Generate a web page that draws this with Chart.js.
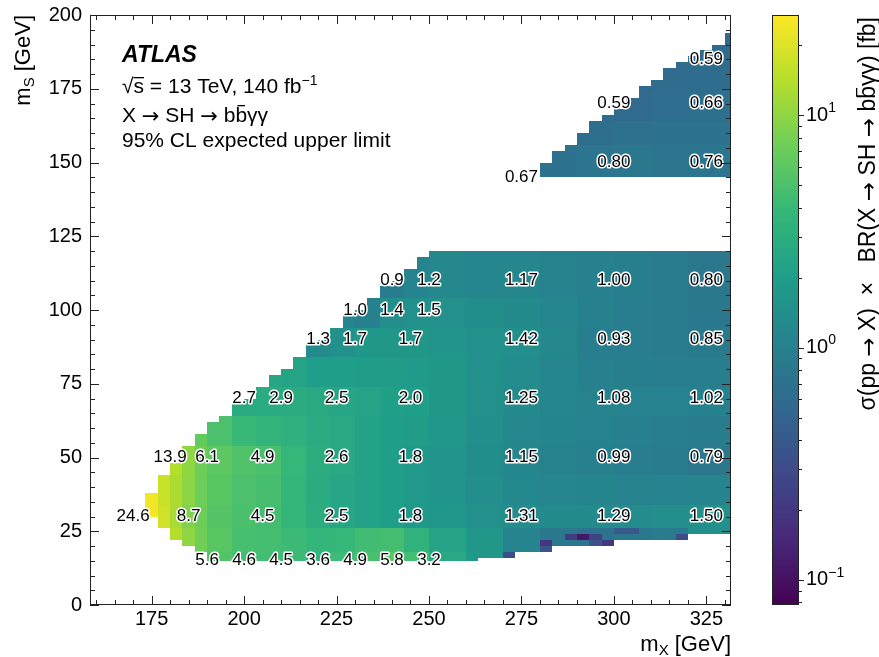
<!DOCTYPE html>
<html>
<head>
<meta charset="utf-8">
<script src="https://cdn.jsdelivr.net/npm/chart.js@4.4.1/dist/chart.umd.min.js"></script>
<style>
  html, body { margin: 0; padding: 0; background: #fff; }
  #plot { display: block; }
</style>
</head>
<body>
<canvas id="plot" width="879" height="657" style="width:879px;height:657px"></canvas>
<script>
const FONT = '"Liberation Sans", Arial, Helvetica, sans-serif';
const ARROW_FONT = '"DejaVu Sans", sans-serif';

// axis ticks
const xTicks = [175, 200, 225, 250, 275, 300, 325];
const yTicks = [0, 25, 50, 75, 100, 125, 150, 175, 200];
const cbTicks = [0.1, 1, 10];
const cbTickExp = ['\u22121', '0', '1'];
const cbMin = 0.078, cbMax = 27;

// labelled mass points: m_X, m_S and expected limit [fb]
const pointMX = [190, 200, 210, 220, 230, 240, 250,
  170, 185, 205, 225, 245, 275, 300, 325,
  180, 190, 205, 225, 245, 275, 300, 325,
  200, 210, 225, 245, 275, 300, 325,
  220, 230, 245, 275, 300, 325,
  230, 240, 250,
  240, 250, 275, 300, 325,
  275, 300, 325, 300, 325, 325];
const pointMS = [15, 15, 15, 15, 15, 15, 15,
  30, 30, 30, 30, 30, 30, 30, 30,
  50, 50, 50, 50, 50, 50, 50, 50,
  70, 70, 70, 70, 70, 70, 70,
  90, 90, 90, 90, 90, 90,
  100, 100, 100,
  110, 110, 110, 110, 110,
  145, 150, 150, 170, 170, 185];
const pointLimit = [5.6, 4.6, 4.5, 3.6, 4.9, 5.8, 3.2,
  24.6, 8.7, 4.5, 2.5, 1.8, 1.31, 1.29, 1.50,
  13.9, 6.1, 4.9, 2.6, 1.8, 1.15, 0.99, 0.79,
  2.7, 2.9, 2.5, 2.0, 1.25, 1.08, 1.02,
  1.3, 1.7, 1.7, 1.42, 0.93, 0.85,
  1.0, 1.4, 1.5,
  0.9, 1.2, 1.17, 1.00, 0.80,
  0.67, 0.80, 0.76, 0.59, 0.66, 0.59];

// interpolation cells: 48 columns of 10/3 GeV starting at m_X = 173.33
const firstCol = 173.33;
const cellW = 10 / 3;
// m_S extent of the lower region in every column [GeV]
const lowerFloor = [30, 26, 22, 20, 18, 15, 15, 15, 15, 15, 15, 15, 15, 15, 15, 15,
  15, 15, 15, 15, 15, 15, 15, 15, 15, 15, 15, 16, 16, 16, 18, 18,
  18, 20, 20, 20, 20, 20, 22, 22, 22, 22, 22, 22, 24, 24, 24, 24];
const lowerCeil = [38, 44, 48, 54, 58, 62, 64, 68, 70, 74, 78, 80, 84, 88, 90, 94,
  98, 100, 104, 108, 110, 114, 118, 120, 120, 120, 120, 120, 120, 120, 120, 120,
  120, 120, 120, 120, 120, 120, 120, 120, 120, 120, 120, 120, 120, 120, 120, 120];
// m_S extent of the high-m_S region (starts at m_X = 280)
const upperFloor = [null, null, null, null, null, null, null, null, null, null, null, null, null, null, null, null,
  null, null, null, null, null, null, null, null, null, null, null, null, null, null, null, null,
  145, 145, 145, 145, 145, 145, 145, 145, 145, 145, 145, 145, 145, 145, 145, 145];
const upperCeil = [null, null, null, null, null, null, null, null, null, null, null, null, null, null, null, null,
  null, null, null, null, null, null, null, null, null, null, null, null, null, null, null, null,
  150, 154, 156, 160, 164, 166, 168, 172, 176, 178, 182, 184, 186, 188, 190, 194];

// limit map on coarse m_X x m_S blocks [fb]
const xBandEdges = [173.33, 176.67, 180, 183.33, 186.67, 190, 196.67, 203.33, 210, 216.67, 223.33,
  230, 236.67, 243.33, 250, 260, 270, 280, 290, 300, 310, 320, 333.33];
const yBandEdges = [14, 18, 26, 34, 44, 54, 64, 74, 84, 94, 104, 120,
  144, 156, 164, 174, 184, 198];
const _ = null;
const limitRows = [
  [_, _, _, _, _, 5.4, 4.6, 4.5, 4.2, 3.6, 4.2, 4.9, 5.8, 4.5, 2.6, 1.8, 1.2, 0.9, 0.8, 0.8, 0.8, 0.9],
  [_, _, 14, 10, 7.5, 5.8, 4.8, 4.6, 4.2, 3.7, 3.8, 4.4, 4.6, 3.4, 2.3, 1.7, 1.1, 0.8, 0.7, 0.8, 0.9, 1.4],
  [24.6, 18, 12.5, 8.7, 7.2, 5.6, 4.9, 4.5, 3.7, 3.0, 2.5, 2.2, 2.0, 1.8, 1.65, 1.45, 1.31, 1.28, 1.29, 1.32, 1.4, 1.5],
  [24.6, 17, 13, 9.8, 7.2, 5.8, 5.0, 4.7, 3.7, 2.9, 2.5, 2.2, 2.0, 1.8, 1.6, 1.4, 1.22, 1.15, 1.12, 1.08, 1.05, 1.1],
  [_, 15, 13.9, 10, 7.2, 6.1, 5.2, 4.9, 3.8, 3.0, 2.6, 2.2, 2.0, 1.8, 1.6, 1.35, 1.15, 1.07, 0.99, 0.95, 0.87, 0.79],
  [_, _, _, 9, 6.5, 5.0, 4.0, 3.6, 3.2, 2.8, 2.6, 2.2, 2.0, 1.9, 1.65, 1.4, 1.2, 1.12, 1.05, 1.0, 0.95, 0.9],
  [_, _, _, _, _, 3.4, 2.7, 2.8, 2.9, 2.7, 2.5, 2.3, 2.1, 2.0, 1.7, 1.45, 1.25, 1.15, 1.08, 1.06, 1.04, 1.02],
  [_, _, _, _, _, _, _, 2.5, 2.3, 2.0, 2.0, 1.95, 1.9, 1.85, 1.7, 1.5, 1.32, 1.15, 1.0, 0.97, 0.95, 0.93],
  [_, _, _, _, _, _, _, _, 1.6, 1.3, 1.5, 1.7, 1.7, 1.7, 1.6, 1.5, 1.42, 1.2, 0.95, 0.93, 0.88, 0.85],
  [_, _, _, _, _, _, _, _, _, _, 1.1, 1.0, 1.4, 1.5, 1.45, 1.35, 1.3, 1.15, 1.0, 0.95, 0.87, 0.82],
  [_, _, _, _, _, _, _, _, _, _, _, 0.95, 0.9, 1.1, 1.2, 1.18, 1.17, 1.08, 1.0, 0.97, 0.88, 0.80],
  [_, _, _, _, _, _, _, _, _, _, _, _, _, _, _, _, _, _, _, _, _, _],
  [_, _, _, _, _, _, _, _, _, _, _, _, _, _, _, _, _, 0.70, 0.76, 0.80, 0.78, 0.76],
  [_, _, _, _, _, _, _, _, _, _, _, _, _, _, _, _, _, 0.68, 0.66, 0.68, 0.70, 0.70],
  [_, _, _, _, _, _, _, _, _, _, _, _, _, _, _, _, _, _, 0.60, 0.59, 0.63, 0.66],
  [_, _, _, _, _, _, _, _, _, _, _, _, _, _, _, _, _, _, _, 0.58, 0.60, 0.62],
  [_, _, _, _, _, _, _, _, _, _, _, _, _, _, _, _, _, _, _, _, 0.58, 0.59]
];
// single low cells along the lower edge: column centre m_X, cell floor m_S, limit
const speckMX = [271.67, 281.67, 281.67, 288.33, 291.67, 295, 295, 298.33, 301.67, 305, 318.33];
const speckMS = [16, 18, 20, 22, 22, 22, 20, 20, 24, 24, 22];
const speckLimit = [0.33, 0.35, 0.2, 0.22, 0.11, 0.25, 0.35, 0.2, 0.4, 0.4, 0.3];

// viridis
const VIRIDIS = ['#440154', '#482878', '#3e4989', '#31688e', '#26828e', '#1f9e89', '#35b779', '#6ece58', '#b5de2b', '#fde725'];
function hexRgb(h) { return [1, 3, 5].map(i => parseInt(h.slice(i, i + 2), 16)); }
const VIR_RGB = VIRIDIS.map(hexRgb);
function colorFor(v) {
  let t = (Math.log10(v) - Math.log10(cbMin)) / (Math.log10(cbMax) - Math.log10(cbMin));
  t = Math.max(0, Math.min(1, t)) * (VIR_RGB.length - 1);
  const i = Math.min(Math.floor(t), VIR_RGB.length - 2), f = t - i;
  const a = VIR_RGB[i], b = VIR_RGB[i + 1];
  return `rgb(${a.map((c, k) => Math.round(c + (b[k] - c) * f)).join(',')})`;
}

function bandOf(edges, v) {
  for (let i = 0; i < edges.length - 1; i++) if (v >= edges[i] && v < edges[i + 1]) return i;
  return -1;
}

// rich text: pieces = {t, size, dy, style, font, bar:[dx, h, extra]}
function rich(ctx, pieces, x, y, align) {
  const fontOf = p => `${p.style || ''} ${p.size}px ${p.font || FONT}`;
  const widths = pieces.map(p => { ctx.font = fontOf(p); return ctx.measureText(p.t).width; });
  const total = widths.reduce((a, b) => a + b, 0);
  let cx = align === 'right' ? x - total : x;
  pieces.forEach((p, i) => {
    ctx.font = fontOf(p);
    ctx.fillText(p.t, cx, y + (p.dy || 0));
    if (p.bar) ctx.fillRect(cx + p.bar[0], y - p.bar[1], widths[i] - p.bar[0] + (p.bar[2] || 0), 1.3);
    cx += widths[i];
  });
  return total;
}
const T = (t, size, extra) => Object.assign({ t, size }, extra || {});
const ARR = size => T('\u2192', size, { font: ARROW_FONT, dy: 1 });

const heatmap = {
  id: 'heatmap',
  beforeDatasetsDraw(chart) {
    const { ctx } = chart;
    const xs = chart.scales.x, ys = chart.scales.y;
    const cell = (x0, x1, y0, y1, v) => {
      const L = Math.round(xs.getPixelForValue(x0)), R = Math.round(xs.getPixelForValue(Math.min(x1, xs.max)));
      const Tp = Math.round(ys.getPixelForValue(y1)), B = Math.round(ys.getPixelForValue(y0));
      ctx.fillStyle = colorFor(v);
      ctx.fillRect(L, Tp, R - L, B - Tp);
    };
    ctx.save();
    for (let k = 0; k < lowerFloor.length; k++) {
      const x0 = firstCol + k * cellW, x1 = x0 + cellW;
      const b = bandOf(xBandEdges, x0 + cellW / 2);
      const spans = [[lowerFloor[k], lowerCeil[k]], [upperFloor[k], upperCeil[k]]];
      for (const [lo, hi] of spans) {
        if (lo === null) continue;
        for (let j = 0; j < yBandEdges.length - 1; j++) {
          const y0 = Math.max(lo, yBandEdges[j]), y1 = Math.min(hi, yBandEdges[j + 1]);
          const v = limitRows[j][b];
          if (y1 > y0 && v !== null) cell(x0, x1, y0, y1, v);
        }
      }
    }
    speckMX.forEach((mx, i) => cell(mx - cellW / 2, mx + cellW / 2, speckMS[i], speckMS[i] + 2, speckLimit[i]));
    ctx.restore();
  },
  afterDatasetsDraw(chart) {
    const { ctx } = chart;
    const xs = chart.scales.x, ys = chart.scales.y;
    ctx.save();
    ctx.font = `17px ${FONT}`;
    ctx.textAlign = 'center';
    ctx.textBaseline = 'middle';
    ctx.lineJoin = 'round';
    pointMX.forEach((mx, i) => {
      const v = pointLimit[i];
      const s = mx >= 275 ? v.toFixed(2) : v.toFixed(1);
      const px = xs.getPixelForValue(mx), py = ys.getPixelForValue(pointMS[i]);
      ctx.strokeStyle = '#fff';
      ctx.lineWidth = 3;
      ctx.strokeText(s, px, py);
      ctx.fillStyle = '#000';
      ctx.fillText(s, px, py);
    });
    ctx.restore();
  }
};

const frame = {
  id: 'frame',
  afterDraw(chart) {
    const { ctx, chartArea: a } = chart;
    const xs = chart.scales.x, ys = chart.scales.y, cb = chart.scales.cb;
    ctx.save();
    ctx.strokeStyle = '#222';
    ctx.lineWidth = 1;
    ctx.strokeRect(a.left + 0.5, a.top + 0.5, a.right - a.left - 1, a.bottom - a.top - 1);
    ctx.beginPath();
    for (let v = 160; v <= 330; v += 5) {
      const p = Math.round(xs.getPixelForValue(v)) + 0.5;
      const len = v % 25 === 0 ? 9 : 5;
      ctx.moveTo(p, a.bottom); ctx.lineTo(p, a.bottom - len);
      ctx.moveTo(p, a.top); ctx.lineTo(p, a.top + len);
    }
    for (let v = 0; v <= 200; v += 5) {
      const p = Math.round(ys.getPixelForValue(v)) + 0.5;
      const len = v % 25 === 0 ? 9 : 5;
      ctx.moveTo(a.left, p); ctx.lineTo(a.left + len, p);
      ctx.moveTo(a.right, p); ctx.lineTo(a.right - len, p);
    }
    ctx.stroke();

    // colour bar
    const cbL = 772, cbR = 799;
    for (let y = Math.floor(cb.top); y < cb.bottom; y++) {
      ctx.fillStyle = colorFor(cb.getValueForPixel(y + 0.5));
      ctx.fillRect(cbL, y, cbR - cbL, 1);
    }
    ctx.strokeRect(cbL + 0.5, cb.top + 0.5, cbR - cbL - 1, cb.bottom - cb.top - 1);
    ctx.beginPath();
    for (let d = -2; d <= 1; d++) {
      for (let m = 1; m <= 9; m++) {
        const v = m * Math.pow(10, d);
        if (v < cbMin || v > cbMax) continue;
        const p = Math.round(cb.getPixelForValue(v)) + 0.5;
        ctx.moveTo(cbR, p); ctx.lineTo(cbR + (m === 1 ? 5 : 3), p);
      }
    }
    ctx.stroke();
    ctx.fillStyle = '#000';
    ctx.textBaseline = 'middle';
    cbTicks.forEach((v, i) => {
      rich(ctx, [T('10', 20), T(cbTickExp[i], 14, { dy: -7 })], 806, cb.getPixelForValue(v), 'left');
    });

    // axis titles
    ctx.textBaseline = 'alphabetic';
    rich(ctx, [T('m', 22), T('X', 15, { dy: 4 }), T(' [GeV]', 22)], a.right, 651, 'right');
    ctx.save();
    ctx.translate(30, a.top);
    ctx.rotate(-Math.PI / 2);
    rich(ctx, [T('m', 22), T('S', 15, { dy: 4 }), T(' [GeV]', 22)], 0, 0, 'right');
    ctx.restore();
    ctx.save();
    ctx.translate(875, a.top + 2);
    ctx.rotate(-Math.PI / 2);
    const cs = 23;
    rich(ctx, [T('\u03c3(pp ', cs), ARR(cs), T(' X)  \u00d7   BR(X ', cs), ARR(cs), T(' SH ', cs), ARR(cs),
      T(' b', cs), T('b', cs, { bar: [2, 19, -2] }), T('\u03b3\u03b3) [fb]', cs)], 0, 0, 'right');
    ctx.restore();

    // plot annotations
    rich(ctx, [T('ATLAS', 23, { style: 'italic bold' })], 122, 62, 'left');
    rich(ctx, [T('\u221a', 21), T('s', 21, { bar: [0, 16, 0] }), T(' = 13 TeV, 140 fb', 21), T('\u22121', 14, { dy: -8 })], 122, 93, 'left');
    rich(ctx, [T('X ', 21), ARR(21), T(' SH ', 21), ARR(21), T(' b', 21), T('b', 21, { bar: [2, 17, -2] }), T('\u03b3\u03b3', 21)], 122, 122, 'left');
    rich(ctx, [T('95% CL expected upper limit', 21)], 122, 147, 'left');
    ctx.restore();
  }
};

new Chart(document.getElementById('plot'), {
  type: 'scatter',
  data: { datasets: [{ data: pointMX.map((x, i) => ({ x, y: pointMS[i] })), pointRadius: 0 }] },
  options: {
    responsive: false,
    animation: false,
    events: [],
    layout: { padding: { top: 15, right: 148, left: 0, bottom: 0 } },
    plugins: { legend: { display: false }, tooltip: { enabled: false } },
    scales: {
      x: {
        type: 'linear', min: 158.33, max: 331.67,
        grid: { display: false, drawTicks: false }, border: { display: false },
        ticks: { font: { family: FONT, size: 20 }, color: '#000', padding: 2, maxRotation: 0 },
        afterBuildTicks: s => { s.ticks = xTicks.map(value => ({ value })); },
        afterFit: s => { s.height = 52; s.paddingLeft = 0; s.paddingRight = 0; }
      },
      y: {
        type: 'linear', min: 0, max: 200,
        grid: { display: false, drawTicks: false }, border: { display: false },
        ticks: { font: { family: FONT, size: 20 }, color: '#000', padding: 8 },
        afterBuildTicks: s => { s.ticks = yTicks.map(value => ({ value })); },
        afterFit: s => { s.width = 90; s.paddingTop = 0; s.paddingBottom = 0; }
      },
      cb: { type: 'logarithmic', position: 'right', display: false, min: cbMin, max: cbMax }
    }
  },
  plugins: [heatmap, frame]
});
</script>
</body>
</html>
